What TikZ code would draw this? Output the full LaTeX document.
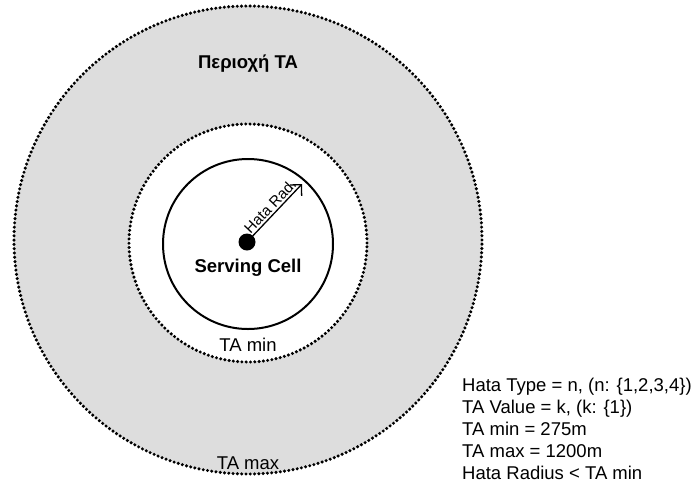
\documentclass[tikz,border=0pt]{standalone}
\usepackage{fontspec}
\setmainfont{Liberation Sans}
\usetikzlibrary{arrows.meta}
\definecolor{zonegray}{RGB}{221,221,221}
\begin{document}
\begin{tikzpicture}[x=1pt,y=-1pt,
  dotring/.style={draw=black, line width=3.4pt, line cap=round, dash pattern=on 0pt off 4.3pt},
  lbl/.style={font=\fontsize{18.5}{22}\selectfont, inner sep=0pt},
  blbl/.style={font=\fontsize{18.5}{22}\selectfont\bfseries, inner sep=0pt},
  smalllbl/.style={font=\fontsize{15}{17}\selectfont, inner sep=1.5pt}]
\useasboundingbox (0,0) rectangle (696,488);
% TA annulus (outer limit = TA max)
\path[fill=zonegray] (248,240) circle[radius=234pt];
\draw[dotring] (248,240) circle[radius=234pt];
% TA min limit
\path[fill=white] (248,243) circle[radius=119pt];
\draw[dotring] (248,243) circle[radius=119pt];
% serving cell coverage (Hata radius)
\draw[line width=2pt] (248,244) circle[radius=85pt];
% cell site and Hata radius arrow
\node[circle, fill=black, inner sep=0pt, minimum size=17pt] (site) at (247,242) {};
\coordinate (radtip) at (302,184);
\draw[line width=1.3pt, -{Straight Barb[length=8pt,width=16pt]}] (site.center) -- (radtip)
  node[pos=0.52, sloped, above, smalllbl] (radlbl) {Hata Rad.};
% labels
\node[blbl] (zone) at (248,64) {Περιοχή TA};
\node[blbl] (cell) at (248,268) {Serving Cell};
\node[lbl] (tamin) at (248,345) {TA min};
\node[lbl] (tamax) at (248,463) {TA max};
\node[lbl, anchor=north west, align=left] (legend) at (462,378)
  {Hata Type = n, (n: \{1,2,3,4\})\\
   TA Value = k, (k: \{1\})\\
   TA min = 275m\\
   TA max = 1200m\\
   Hata Radius < TA min};
\end{tikzpicture}
\end{document}
